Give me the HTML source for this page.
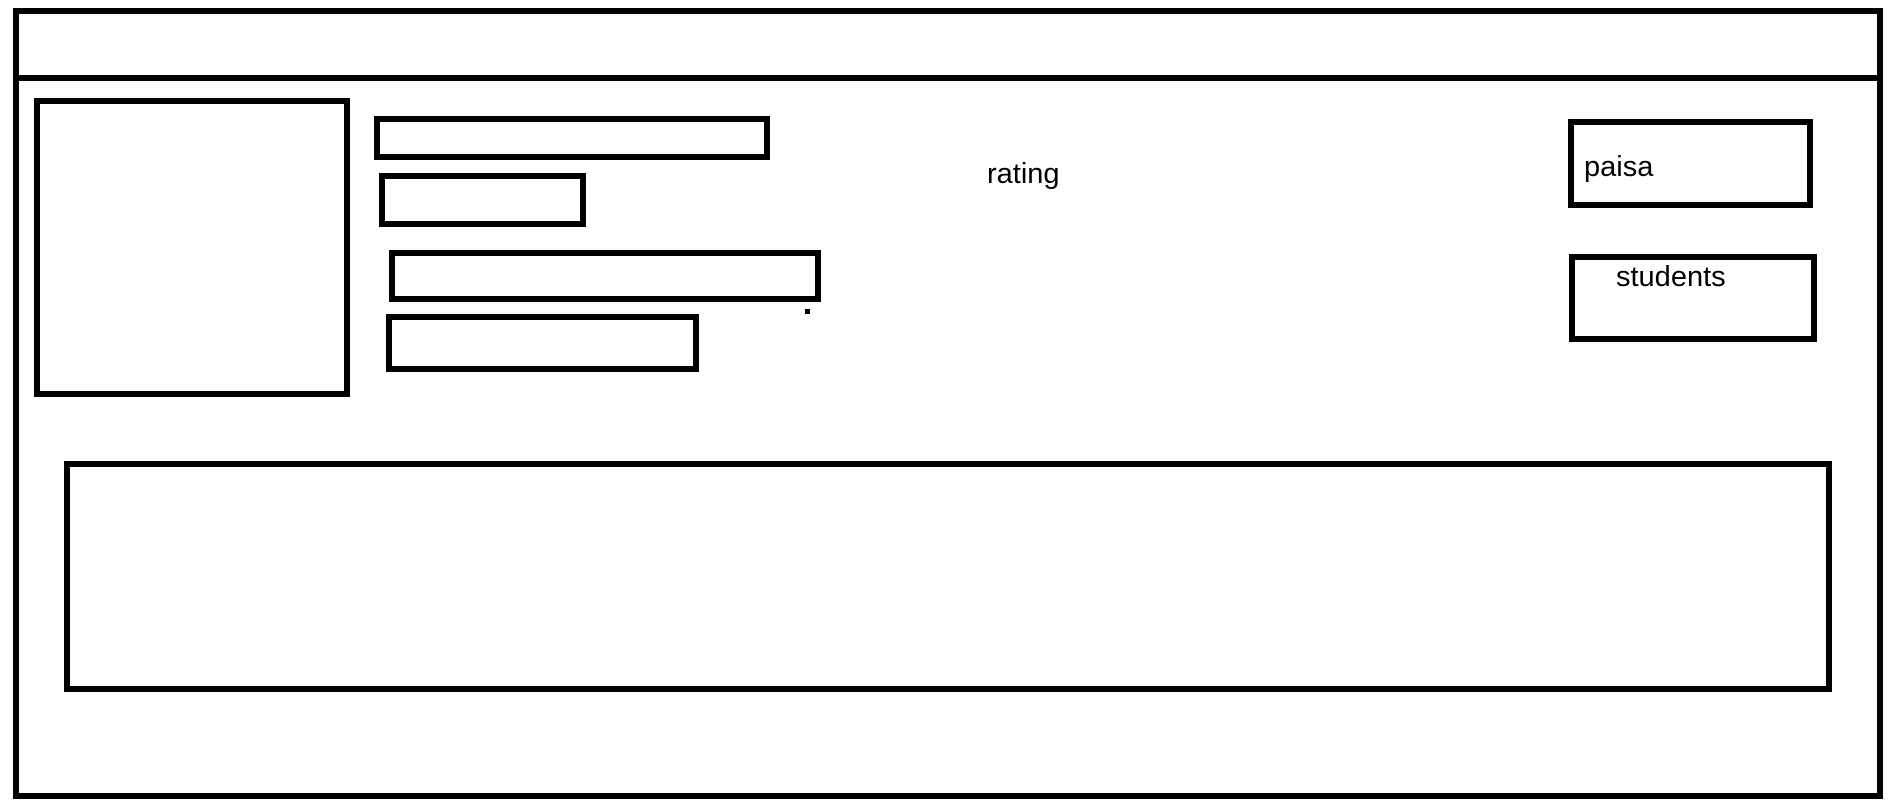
<!DOCTYPE html>
<html><head><meta charset="utf-8"><style>
html,body{margin:0;padding:0;background:#fff;}
svg{display:block;}
text{font-family:"Liberation Sans",sans-serif;font-size:29px;fill:#000;}
</style></head><body>
<svg width="1890" height="808" viewBox="0 0 1890 808" xmlns="http://www.w3.org/2000/svg">
<g fill="none" stroke="#000" stroke-width="6">
<rect x="16" y="11" width="1864" height="785"/>
<line x1="16" y1="78" x2="1880" y2="78"/>
<rect x="37" y="101" width="310" height="293"/>
<rect x="377" y="119" width="390" height="38"/>
<rect x="382" y="176" width="201" height="48"/>
<rect x="392" y="253" width="426" height="46"/>
<rect x="389" y="317" width="307" height="52"/>
<rect x="1571" y="122" width="239" height="83"/>
<rect x="1572" y="257" width="242" height="82"/>
<rect x="67" y="464" width="1762" height="225"/>
</g>
<rect x="805" y="309" width="5" height="5" fill="#000"/>
<text x="987" y="183">rating</text>
<text x="1584" y="176">paisa</text>
<text x="1616" y="286">students</text>
</svg>
</body></html>
